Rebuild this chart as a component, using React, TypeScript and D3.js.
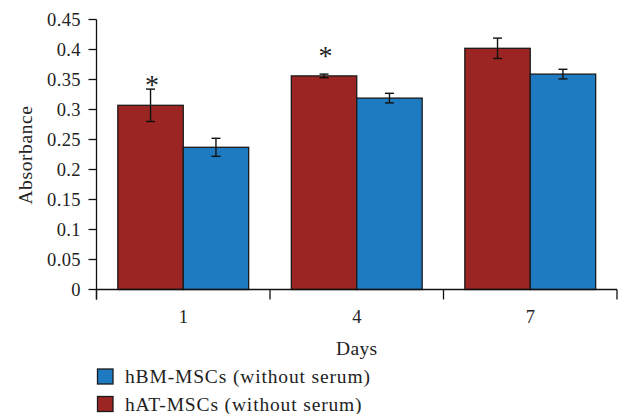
import React from "react";
import * as d3 from "d3";

const days = ["1", "4", "7"];
const seriesNames = ["hAT-MSCs (without serum)", "hBM-MSCs (without serum)"];
const hatValues = [0.307, 0.356, 0.402];
const hatErrors = [0.027, 0.003, 0.017];
const hbmValues = [0.237, 0.319, 0.359];
const hbmErrors = [0.015, 0.008, 0.008];
const significant = [true, true, false];
const yTickValues = [0, 0.05, 0.1, 0.15, 0.2, 0.25, 0.3, 0.35, 0.4, 0.45];
const yTickLabels = ["0", "0.05", "0.1", "0.15", "0.2", "0.25", "0.3", "0.35", "0.4", "0.45"];
const legendOrder = [1, 0];

const colors = ["#9b2522", "#1f7bc1"];
const FONT = "'Liberation Serif', 'Times New Roman', serif";

export default function App() {
  const W = 619, H = 414;
  const left = 96.5, right = 617, top = 19.5, bottom = 289.5;
  const x = d3.scaleBand<string>().domain(days).range([left, right]).paddingInner(0).paddingOuter(0);
  const sub = d3.scaleBand<number>().domain([0, 1]).range([0, x.bandwidth()]).paddingInner(0).paddingOuter(0.326);
  const y = d3.scaleLinear().domain([0, 0.45]).range([bottom, top]);
  const values = [hatValues, hbmValues];
  const errors = [hatErrors, hbmErrors];
  const boundaries = [...days.map((d) => x(d)!), right];

  return (
    <svg width={W} height={H} style={{ position: "absolute", left: 0, top: 0, background: "#fff" }} fontFamily={FONT}>
      {/* bars */}
      {values.map((vals, s) =>
        vals.map((v, i) => {
          const bx = x(days[i])! + sub(s)!;
          return (
            <rect key={`b${s}-${i}`} x={bx} y={y(v)} width={sub.bandwidth()} height={bottom - y(v)}
              fill={colors[s]} stroke="#1a1a1a" strokeWidth={1.3} />
          );
        })
      )}
      {/* error bars */}
      {values.map((vals, s) =>
        vals.map((v, i) => {
          const cx = x(days[i])! + sub(s)! + sub.bandwidth() / 2;
          const e = errors[s][i];
          return (
            <g key={`e${s}-${i}`} stroke="#111" strokeWidth={1.4}>
              <line x1={cx} x2={cx} y1={y(v + e)} y2={y(v - e)} />
              <line x1={cx - 4.5} x2={cx + 4.5} y1={y(v + e)} y2={y(v + e)} />
              <line x1={cx - 4.5} x2={cx + 4.5} y1={y(v - e)} y2={y(v - e)} />
            </g>
          );
        })
      )}
      {/* asterisks */}
      {significant.map((sig, i) =>
        sig ? (
          <text key={`a${i}`} x={x(days[i])! + sub(0)! + sub.bandwidth() / 2 + 1.5} y={y(hatValues[i]) - 24.5 + 13.4}
            fontSize={28} textAnchor="middle" fill="#222">*</text>
        ) : null
      )}
      {/* y axis */}
      <line x1={left} x2={left} y1={top} y2={bottom + 10} stroke="#111" strokeWidth={1.3} />
      {yTickValues.map((t, i) => (
        <g key={`yt${i}`}>
          <line x1={left - 8} x2={left} y1={y(t)} y2={y(t)} stroke="#111" strokeWidth={1.3} />
          <text x={81} y={y(t) + 6} fontSize={18.5} textAnchor="end" letterSpacing={0.4} fill="#222">{yTickLabels[i]}</text>
        </g>
      ))}
      {/* x axis */}
      <line x1={left} x2={right} y1={bottom} y2={bottom} stroke="#111" strokeWidth={1.3} />
      {boundaries.map((b, i) => (
        <line key={`xt${i}`} x1={b} x2={b} y1={bottom} y2={bottom + 10} stroke="#111" strokeWidth={1.3} />
      ))}
      {days.map((d) => (
        <text key={`xl${d}`} x={x(d)! + x.bandwidth() / 2} y={323} fontSize={18.5} textAnchor="middle" fill="#222">{d}</text>
      ))}
      {/* axis titles */}
      <text x={(left + right) / 2} y={355} fontSize={19.5} textAnchor="middle" letterSpacing={0.3} fill="#222">Days</text>
      <text transform={`translate(32,155) rotate(-90)`} fontSize={19.5} textAnchor="middle" letterSpacing={0.6} fill="#222">Absorbance</text>
      {/* legend */}
      {legendOrder.map((s, k) => (
        <g key={`lg${s}`}>
          <rect x={97.5} y={369 + k * 27.5} width={15.5} height={15} fill={colors[s]} stroke="#1a1a1a" strokeWidth={1.3} />
          <text x={125} y={383.3 + k * 27.3} fontSize={19.5} letterSpacing={0.85} fill="#222">{seriesNames[s]}</text>
        </g>
      ))}
    </svg>
  );
}
